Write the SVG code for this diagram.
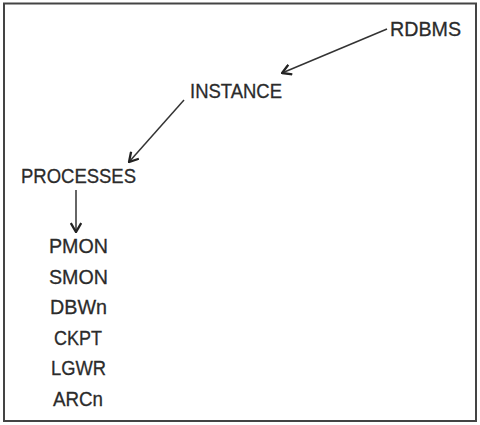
<svg xmlns="http://www.w3.org/2000/svg" width="480" height="425" viewBox="0 0 480 425">
<style>
text{font-family:"Liberation Sans",Arial,sans-serif;font-size:21px;fill:#2b2b2b;stroke:#2b2b2b;stroke-width:0.3}
.c{stroke:#333;stroke-width:1.5;fill:none}
</style>
<defs>
<marker id="ah" viewBox="0 0 12 12" refX="11" refY="6" markerWidth="12" markerHeight="12" markerUnits="userSpaceOnUse" orient="auto">
<path d="M2,0.8 L11,6 L2,11.2" fill="none" stroke="#222" stroke-width="2.3" stroke-linejoin="miter"/>
</marker>
</defs>
<rect x="4" y="3.5" width="472" height="417.5" fill="#fff" stroke="#444" stroke-width="2"/>
<g id="connectors">
<line class="c" x1="387" y1="29" x2="282" y2="73" marker-end="url(#ah)"/>
<line class="c" x1="184" y1="100" x2="129" y2="162" marker-end="url(#ah)"/>
<line class="c" x1="76" y1="190" x2="76" y2="232" marker-end="url(#ah)"/>
</g>
<g id="rdbms"><text x="390" y="36" textLength="71" lengthAdjust="spacingAndGlyphs">RDBMS</text></g>
<g id="instance"><text x="190" y="97.5" textLength="92" lengthAdjust="spacingAndGlyphs">INSTANCE</text></g>
<g id="processes"><text x="21" y="183" textLength="115" lengthAdjust="spacingAndGlyphs">PROCESSES</text></g>
<g id="list">
<g id="pmon"><text x="49" y="253" textLength="59" lengthAdjust="spacingAndGlyphs">PMON</text></g>
<g id="smon"><text x="49" y="283.5" textLength="59" lengthAdjust="spacingAndGlyphs">SMON</text></g>
<g id="dbwn"><text x="50" y="314" textLength="57" lengthAdjust="spacingAndGlyphs">DBWn</text></g>
<g id="ckpt"><text x="54" y="344.5" textLength="48" lengthAdjust="spacingAndGlyphs">CKPT</text></g>
<g id="lgwr"><text x="51" y="375" textLength="55" lengthAdjust="spacingAndGlyphs">LGWR</text></g>
<g id="arcn"><text x="53" y="405.5" textLength="50" lengthAdjust="spacingAndGlyphs">ARCn</text></g>
</g>
</svg>
